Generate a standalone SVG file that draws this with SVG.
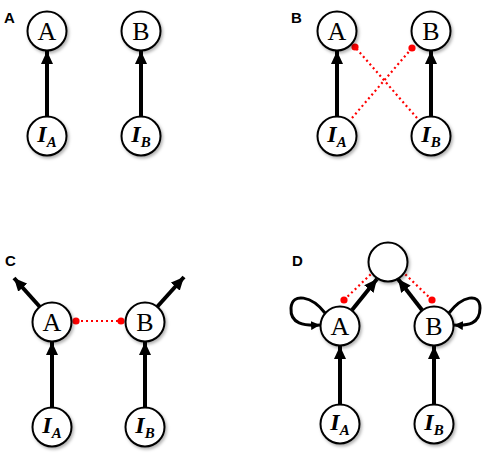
<svg xmlns="http://www.w3.org/2000/svg" width="500" height="463" viewBox="0 0 500 463">
<style>
.nd{fill:#fff;stroke:#000;stroke-width:2;filter:url(#sh)}
.lb{font-family:"Liberation Serif",serif;font-size:26px;text-anchor:middle;fill:#000}
.in{font-family:"Liberation Serif",serif;font-style:italic;font-weight:bold;font-size:24px;text-anchor:middle;fill:#000}
.sub{font-size:15px}
.pl{font-family:"Liberation Sans",Arial,sans-serif;font-weight:bold;font-size:15px;fill:#000}
.ar{stroke:#000;stroke-width:4;fill:none;marker-end:url(#ah)}
.lp{stroke:#000;stroke-width:3;fill:none;marker-end:url(#ahs)}
.inh{stroke:#f00;stroke-width:2.2;stroke-dasharray:2 3;fill:none}
.dot{fill:#f00}
</style>
<defs>
<filter id="sh" x="-30%" y="-30%" width="160%" height="160%">
<feDropShadow dx="1.5" dy="2" stdDeviation="1.5" flood-color="#000" flood-opacity="0.3"/>
</filter>
<marker id="ah" markerUnits="userSpaceOnUse" markerWidth="14" markerHeight="12" refX="13" refY="6" orient="auto">
<path d="M0,0 L13,6 L0,12 z" fill="#000"/>
</marker>
<marker id="ahs" markerUnits="userSpaceOnUse" markerWidth="10" markerHeight="9" refX="9" refY="4.5" orient="auto">
<path d="M0,0 L9,4.5 L0,9 z" fill="#000"/>
</marker>
</defs>

<g id="panel-labels">
<text class="pl" x="4" y="23">A</text>
<text class="pl" x="291" y="23">B</text>
<text class="pl" x="5" y="266">C</text>
<text class="pl" x="292" y="266">D</text>
</g>

<g id="connectors">
<line class="ar" x1="47" y1="116" x2="47" y2="51"/>
<line class="ar" x1="141" y1="116" x2="141" y2="51"/>
<line class="ar" x1="337" y1="116" x2="337" y2="51"/>
<line class="ar" x1="431" y1="116" x2="431" y2="51"/>
<line class="inh" x1="352" y1="118" x2="412" y2="48"/>
<line class="inh" x1="417" y1="118" x2="355" y2="47"/>
<circle class="dot" cx="412" cy="48" r="3.6"/>
<circle class="dot" cx="355" cy="47" r="3.6"/>
<line class="ar" x1="52" y1="407" x2="52" y2="342"/>
<line class="ar" x1="145" y1="407" x2="145" y2="342"/>
<line class="ar" x1="40" y1="307" x2="14" y2="278"/>
<line class="ar" x1="157" y1="307" x2="184" y2="277"/>
<line class="inh" x1="76" y1="321" x2="121" y2="321"/>
<circle class="dot" cx="76" cy="321" r="3.6"/>
<circle class="dot" cx="121" cy="321" r="3.6"/>
<line class="ar" x1="340" y1="404" x2="340" y2="346"/>
<line class="ar" x1="434" y1="404" x2="434" y2="346"/>
<line class="ar" x1="352" y1="310" x2="377" y2="279"/>
<line class="ar" x1="422" y1="310" x2="398" y2="279"/>
<line class="inh" x1="344" y1="300" x2="371" y2="274"/>
<line class="inh" x1="432" y1="300" x2="405" y2="274"/>
<circle class="dot" cx="344" cy="300" r="3.6"/>
<circle class="dot" cx="432" cy="300" r="3.6"/>
<path class="lp" d="M325,313 C312,296 292,292 291,308 C290,324 304,326 320,325"/>
<path class="lp" d="M449,313 C462,296 480,292 480,308 C480,324 468,326 454,325"/>
</g>

<g id="a-A"><circle class="nd" cx="47" cy="31" r="19.5"/><text class="lb" x="47" y="40">A</text></g>
<g id="a-B"><circle class="nd" cx="141" cy="31" r="19.5"/><text class="lb" x="141" y="40">B</text></g>
<g id="a-IA"><circle class="nd" cx="47" cy="136" r="19.5"/><text class="in" x="47" y="142">I<tspan class="sub" dy="5">A</tspan></text></g>
<g id="a-IB"><circle class="nd" cx="141" cy="136" r="19.5"/><text class="in" x="141" y="142">I<tspan class="sub" dy="5">B</tspan></text></g>

<g id="b-A"><circle class="nd" cx="337" cy="31" r="19.5"/><text class="lb" x="337" y="40">A</text></g>
<g id="b-B"><circle class="nd" cx="431" cy="31" r="19.5"/><text class="lb" x="431" y="40">B</text></g>
<g id="b-IA"><circle class="nd" cx="337" cy="136" r="19.5"/><text class="in" x="337" y="142">I<tspan class="sub" dy="5">A</tspan></text></g>
<g id="b-IB"><circle class="nd" cx="431" cy="136" r="19.5"/><text class="in" x="431" y="142">I<tspan class="sub" dy="5">B</tspan></text></g>

<g id="c-A"><circle class="nd" cx="52" cy="322" r="19.5"/><text class="lb" x="52" y="331">A</text></g>
<g id="c-B"><circle class="nd" cx="145" cy="322" r="19.5"/><text class="lb" x="145" y="331">B</text></g>
<g id="c-IA"><circle class="nd" cx="52" cy="427" r="19.5"/><text class="in" x="52" y="433">I<tspan class="sub" dy="5">A</tspan></text></g>
<g id="c-IB"><circle class="nd" cx="145" cy="427" r="19.5"/><text class="in" x="145" y="433">I<tspan class="sub" dy="5">B</tspan></text></g>

<g id="d-top"><circle class="nd" cx="388" cy="262" r="19.5"/></g>
<g id="d-A"><circle class="nd" cx="340" cy="326" r="19.5"/><text class="lb" x="340" y="335">A</text></g>
<g id="d-B"><circle class="nd" cx="434" cy="326" r="19.5"/><text class="lb" x="434" y="335">B</text></g>
<g id="d-IA"><circle class="nd" cx="340" cy="424" r="19.5"/><text class="in" x="340" y="430">I<tspan class="sub" dy="5">A</tspan></text></g>
<g id="d-IB"><circle class="nd" cx="434" cy="424" r="19.5"/><text class="in" x="434" y="430">I<tspan class="sub" dy="5">B</tspan></text></g>
</svg>
